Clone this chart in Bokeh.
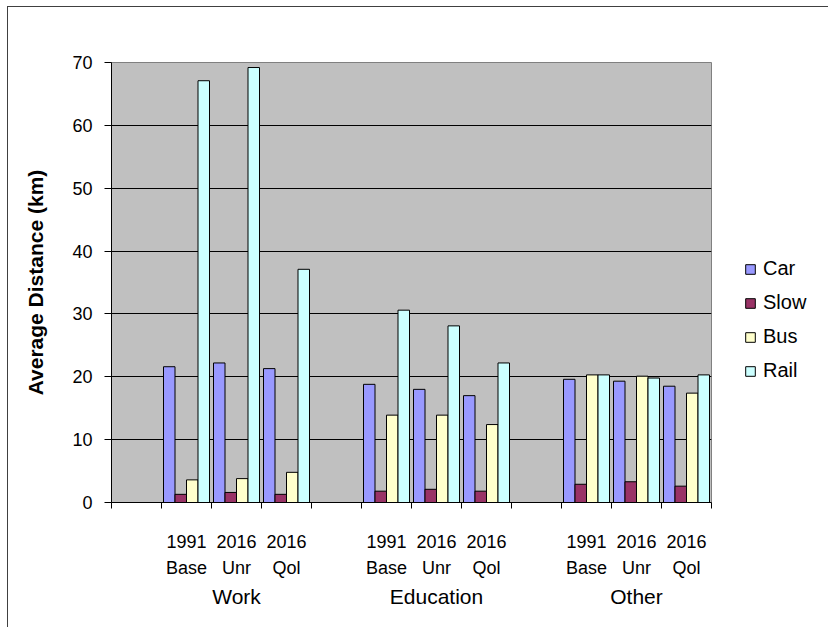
from bokeh.plotting import figure
from bokeh.models import (ColumnDataSource, FixedTicker, LinearAxis, Legend, LegendItem, Range1d)
from bokeh.transform import dodge
from bokeh.embed import file_html
from bokeh.resources import INLINE

# ---- data ----
groups = ["Work", "Education", "Other"]
scenarios = ["1991\nBase", "2016\nUnr", "2016\nQol"]
series = ["Car", "Slow", "Bus", "Rail"]
car = [21.6, 22.2, 21.3, 18.8, 18.0, 17.0, 19.6, 19.3, 18.5]
slow = [1.3, 1.6, 1.3, 1.8, 2.1, 1.8, 2.9, 3.3, 2.6]
bus = [3.6, 3.8, 4.8, 13.9, 13.9, 12.4, 20.3, 20.1, 17.4]
rail = [67.1, 69.2, 37.1, 30.6, 28.1, 22.2, 20.3, 19.8, 20.3]
colors = ["#9999FF", "#993366", "#FFFFCC", "#CCFFFF"]
y_ticks = [0, 10, 20, 30, 40, 50, 60, 70]

# category slot positions: one blank slot before each group
n_sc = len(scenarios)
slot_w = n_sc + 1
xs, labels = [], {}
for gi, g in enumerate(groups):
    for si, s in enumerate(scenarios):
        c = gi * slot_w + si + 1 + 0.5
        xs.append(c)
        labels[c] = s
group_centers = {gi * slot_w + 1 + n_sc / 2: g for gi, g in enumerate(groups)}
n_slots = len(groups) * slot_w

source = ColumnDataSource(dict(x=xs, Car=car, Slow=slow, Bus=bus, Rail=rail))

FONT = "Liberation Sans"

p = figure(frame_width=600, frame_height=440, output_backend="svg", toolbar_location=None,
           x_range=Range1d(0, n_slots), y_range=Range1d(0, 70),
           min_border_left=103, min_border_right=109, min_border_top=55,
           min_border_bottom=125)
p.styles = {"border-left": "1px solid #404040", "border-top": "1px solid #404040",
            "margin-left": "7px", "margin-top": "6px"}

p.background_fill_color = "#C0C0C0"
p.border_fill_color = "white"
p.outline_line_color = "#808080"
p.outline_line_width = 1

bw = 0.23
offsets = [-1.5 * bw, -0.5 * bw, 0.5 * bw, 1.5 * bw]
renderers = []
for name, col, off in zip(series, colors, offsets):
    r = p.vbar(x=dodge("x", off), top=name, width=bw, source=source,
               fill_color=col, line_color="black", line_width=1)
    renderers.append(r)

# grid
p.xgrid.visible = False
p.ygrid.ticker = FixedTicker(ticks=y_ticks[1:-1])
p.ygrid.grid_line_color = "black"
p.ygrid.grid_line_width = 1

# y axis
ya = p.yaxis[0]
ya.ticker = FixedTicker(ticks=y_ticks)
ya.axis_label = "Average Distance (km)"
ya.axis_label_text_font = FONT
ya.axis_label_text_font_style = "bold"
ya.axis_label_text_font_size = "21px"
ya.axis_label_text_color = "black"
ya.axis_label_standoff = 22
ya.major_label_text_font = FONT
ya.major_label_text_font_size = "18px"
ya.major_label_text_color = "black"
ya.major_label_standoff = 12
ya.major_tick_out = 7
ya.major_tick_in = 0
ya.minor_tick_line_color = None
ya.axis_line_color = "black"
ya.major_tick_line_color = "black"

# x axis: scenario labels at slot centres, ticks at slot boundaries
xa = p.xaxis[0]
xa.ticker = FixedTicker(ticks=xs, minor_ticks=list(range(n_slots + 1)))
xa.major_label_overrides = labels
xa.major_tick_line_color = None
xa.major_tick_out = 0
xa.major_tick_in = 0
xa.minor_tick_line_color = "black"
xa.minor_tick_out = 6
xa.minor_tick_in = 0
xa.axis_line_color = "black"
xa.major_label_text_font = FONT
xa.major_label_text_font_size = "18px"
xa.major_label_text_color = "black"
xa.major_label_text_line_height = 1.3
xa.major_label_standoff = 23

# group axis
ga = LinearAxis(ticker=FixedTicker(ticks=list(group_centers.keys())),
                major_label_overrides=group_centers)
ga.axis_line_color = None
ga.major_tick_line_color = None
ga.minor_tick_line_color = None
ga.major_tick_out = 0
ga.major_label_standoff = 4
ga.major_label_text_font = FONT
ga.major_label_text_font_size = "21px"
ga.major_label_text_color = "black"
p.add_layout(ga, "below")

legend = Legend(items=[LegendItem(label=s, renderers=[r]) for s, r in zip(series, renderers)],
                location=(33, 120), orientation="vertical")
legend.background_fill_alpha = 0
legend.border_line_color = None
legend.label_text_font = FONT
legend.label_text_font_size = "20px"
legend.label_text_color = "black"
legend.glyph_width = 12
legend.glyph_height = 12
legend.label_height = 20
legend.spacing = 11
legend.padding = 0
legend.margin = 0
legend.label_standoff = 7
p.add_layout(legend, "right")

open("out.html", "w").write(file_html(p, INLINE))
